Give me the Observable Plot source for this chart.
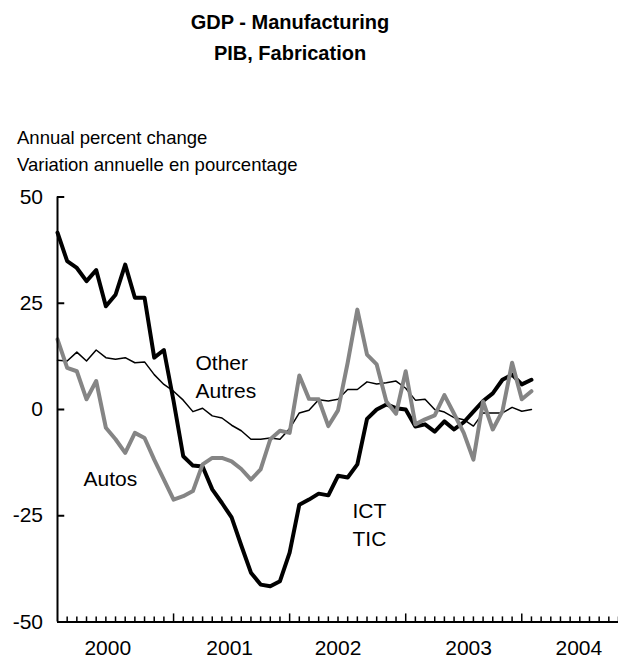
<!DOCTYPE html>
<html><head><meta charset="utf-8">
<script src="https://cdn.jsdelivr.net/npm/d3@7"></script>
<script src="https://cdn.jsdelivr.net/npm/@observablehq/plot@0.6"></script>
<style>
body{margin:0;background:#fff;font-family:"Liberation Sans",Arial,sans-serif;color:#000}
#wrap{position:relative;width:618px;height:659px;overflow:hidden}
#header{position:relative;height:180px}
.title{position:absolute;left:0;width:580px;top:6.8px;text-align:center;font-weight:bold;font-size:20px;line-height:31.5px;margin:0}
.sub{position:absolute;left:17px;top:124.1px;font-size:18.5px;line-height:27px;margin:0;font-weight:normal}
#chart svg{display:block}
</style></head><body>
<div id="wrap">
<div id="header">
<h1 class="title">GDP - Manufacturing<br>PIB, Fabrication</h1>
<p class="sub">Annual percent change<br>Variation annuelle en pourcentage</p>
</div>
<div id="chart"></div>
</div>
<script>
// Monthly observations, January 2000 to February 2004 (month index 0 = Jan 2000)
const ict = [41.6, 34.9, 33.3, 30.2, 32.8, 24.3, 27.0, 34.1, 26.3, 26.3, 12.2, 14.0,
             2.0, -11.0, -13.2, -13.4, -18.8, -22.0, -25.4, -32.0, -38.4, -41.2, -41.6, -40.4,
             -33.7, -22.4, -21.2, -19.8, -20.2, -15.6, -16.0, -12.9, -2.2, 0.0, 1.2, 0.3,
             0.0, -4.0, -3.5, -5.2, -2.8, -4.7, -3.0, -0.5, 2.0, 3.8, 7.0, 8.2,
             5.9, 7.0];
const other = [11.6, 11.4, 13.5, 11.4, 14.0, 12.2, 11.8, 12.2, 11.0, 11.2, 8.2, 5.9,
               4.3, 2.2, -0.5, 0.3, -1.5, -2.0, -3.7, -5.0, -7.0, -7.0, -6.7, -7.0,
               -4.5, -0.8, -0.2, 2.3, 2.0, 2.4, 4.7, 4.7, 6.5, 6.0, 6.3, 6.7,
               5.0, 2.2, 2.4, 0.0, -0.6, -1.9, -2.4, -3.9, -0.8, -0.8, -0.8, 0.5,
               -0.4, 0.0];
const autos = [16.5, 9.8, 9.0, 2.4, 6.7, -4.3, -7.0, -10.2, -5.5, -6.7, -11.8, -16.5,
               -21.2, -20.4, -19.2, -12.9, -11.4, -11.4, -12.2, -14.0, -16.5, -14.1, -7.0, -5.0,
               -5.5, 8.0, 2.5, 2.4, -3.9, -0.2, 11.0, 23.5, 12.9, 10.6, 1.9, -1.0,
               9.0, -3.5, -2.3, -1.4, 3.4, -1.0, -5.5, -11.8, 1.9, -4.7, -0.4, 11.0,
               2.4, 4.3];
const yearLabels = ["2000", "2001", "2002", "2003", "2004"];
const yearLabelAt = [5.2, 17.8, 29.0, 42.5, 53.9]; // month index where each year label sits
const yTicks = [-50, -25, 0, 25, 50];
const annotations = [
  {label: "Other\nAutres", k: 14.27, v: 13.86},
  {label: "Autos", k: 2.69, v: -13.44},
  {label: "ICT\nTIC", k: 30.5, v: -20.96}
];

const rows = (vals) => vals.map((v, i) => ({k: i, v}));
const minorTicks = d3.range(1, 59).filter(d => d % 12 !== 0);
const majorTicks = d3.range(12, 59, 12);

const chart = Plot.plot({
  width: 618, height: 479,
  marginLeft: 57, marginRight: 0, marginTop: 16.5, marginBottom: 37.5,
  x: {domain: [0, 58], axis: null},
  y: {domain: [-50, 50], axis: null},
  style: {fontFamily: "'Liberation Sans', Arial, sans-serif", fontSize: "21px", color: "#000", background: "#fff", overflow: "visible"},
  marks: [
    Plot.lineY(rows(other), {x: "k", y: "v", stroke: "#000", strokeWidth: 1.5}),
    Plot.lineY(rows(ict), {x: "k", y: "v", stroke: "#000", strokeWidth: 4}),
    Plot.lineY(rows(autos), {x: "k", y: "v", stroke: "#858585", strokeWidth: 4}),
    Plot.ruleX(minorTicks, {x: d => d, y1: -50, y2: -48.8, stroke: "#000", strokeWidth: 1.5}),
    Plot.ruleX(majorTicks, {x: d => d, y1: -50, y2: -48.1, stroke: "#000", strokeWidth: 1.5}),
    Plot.ruleY(yTicks, {y: d => d, x1: 0, x2: 0.75, stroke: "#000", strokeWidth: 2}),
    Plot.ruleX([0], {stroke: "#000", strokeWidth: 2}),
    Plot.ruleY([-50], {stroke: "#000", strokeWidth: 2}),
    Plot.axisY(yTicks, {label: null, tickSize: 0, tickPadding: 14.5, tickFormat: d => String(d)}),
    Plot.axisX(yearLabelAt, {label: null, tickSize: 0, tickPadding: 17.6, tickFormat: (d) => yearLabels[yearLabelAt.indexOf(d)]}),
    Plot.text(annotations, {x: "k", y: "v", text: "label", textAnchor: "start", lineAnchor: "top", lineHeight: 1.33, fill: "#000"})
  ]
});
document.getElementById("chart").appendChild(chart);
</script>
</body></html>
